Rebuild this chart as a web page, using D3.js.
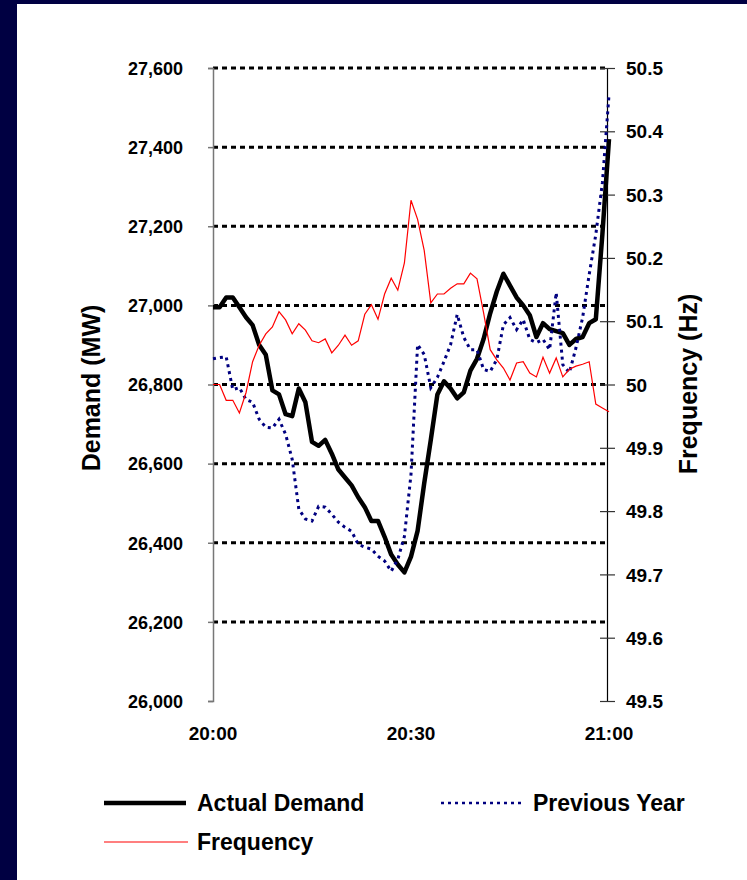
<!DOCTYPE html>
<html>
<head>
<meta charset="utf-8">
<script src="https://cdn.jsdelivr.net/npm/d3@7"></script>
<style>
  html, body { margin: 0; padding: 0; background: #ffffff; }
  svg { display: block; }
  text { font-family: "Liberation Sans", Arial, sans-serif; font-weight: bold; fill: #000; }
</style>
</head>
<body>
<script>
// ---- data (one point per minute, 20:00 .. 21:00) ----
const demand = [26995,26995,27020,27020,26995,26970,26950,26900,26875,26785,26775,26725,26720,26790,26755,26655,26645,26660,26625,26585,26565,26545,26515,26490,26455,26455,26415,26370,26345,26325,26365,26430,26550,26660,26775,26808,26790,26765,26780,26835,26865,26915,26980,27035,27080,27050,27020,27000,26975,26920,26955,26940,26935,26930,26900,26915,26920,26955,26965,27180,27420];
const previousYear = [26865,26868,26870,26787,26792,26762,26755,26712,26692,26690,26712,26674,26611,26485,26460,26455,26492,26490,26472,26452,26439,26429,26396,26389,26384,26366,26354,26328,26358,26416,26573,26901,26876,26792,26818,26858,26901,26977,26919,26888,26888,26838,26833,26863,26951,26969,26939,26964,26914,26906,26914,26888,27032,26850,26830,26893,26969,27078,27179,27310,27532];
const frequency = [50.000,50.000,49.975,49.975,49.955,49.987,50.036,50.062,50.080,50.091,50.115,50.102,50.080,50.096,50.086,50.069,50.066,50.072,50.050,50.062,50.078,50.062,50.069,50.111,50.126,50.103,50.143,50.168,50.149,50.192,50.291,50.261,50.212,50.129,50.143,50.143,50.152,50.159,50.159,50.176,50.167,50.113,50.055,50.039,50.026,50.007,50.034,50.036,50.018,50.012,50.043,50.018,50.042,50.012,50.024,50.029,50.032,50.036,49.969,49.963,49.957];
const xTickPositions = [0, 30, 60];
const xTickLabels = ["20:00", "20:30", "21:00"];
const leftTicks = [26000,26200,26400,26600,26800,27000,27200,27400,27600];
const rightTicks = [49.5,49.6,49.7,49.8,49.9,50,50.1,50.2,50.3,50.4,50.5];
const seriesNames = ["Actual Demand", "Previous Year", "Frequency"];

const W = 747, H = 880;
const svg = d3.select("body").append("svg").attr("width", W).attr("height", H);

// frame
svg.append("rect").attr("x",0).attr("y",0).attr("width",W).attr("height",H).attr("fill","#ffffff");
svg.append("rect").attr("x",0).attr("y",0).attr("width",W).attr("height",4).attr("fill","#000042");
svg.append("rect").attr("x",0).attr("y",0).attr("width",17).attr("height",H).attr("fill","#000042");

const plot = {left: 213, right: 607, top: 68, bottom: 701};
const x = d3.scaleLinear().domain([0, 60]).range([plot.left, plot.right + 2]);
const yL = d3.scaleLinear().domain([26000, 27600]).range([plot.bottom, plot.top]);
const yR = d3.scaleLinear().domain([49.5, 50.5]).range([plot.bottom, plot.top]);

// gridlines
svg.append("g").selectAll("line").data(leftTicks.filter(t => t > 26000)).join("line")
  .attr("x1", plot.left).attr("x2", plot.right)
  .attr("y1", d => yL(d)).attr("y2", d => yL(d))
  .attr("stroke", "#000").attr("stroke-width", 3).attr("stroke-dasharray", "5,4");

// left axis
const leftAxis = d3.axisLeft(yL).tickValues(leftTicks).tickSize(5).tickPadding(25)
  .tickFormat(d3.format(","));
const gL = svg.append("g").attr("transform", `translate(${plot.left},0)`).call(leftAxis);
gL.select(".domain").attr("stroke", "#777").attr("stroke-width", 1.5);
gL.selectAll(".tick line").attr("stroke", "#777").attr("stroke-width", 1.5);
gL.selectAll(".tick text").style("font-size", "18px").attr("dy", "0.35em");

// right axis
const rightAxis = d3.axisRight(yR).tickValues(rightTicks).tickSize(8).tickPadding(11)
  .tickFormat(d => d3.format("")(d));
const gR = svg.append("g").attr("transform", `translate(${plot.right},0)`).call(rightAxis);
gR.select(".domain").attr("stroke", "#000").attr("stroke-width", 1.2);
gR.selectAll(".tick line").attr("x1", -7).attr("stroke", "#333").attr("stroke-width", 1.2);
gR.selectAll(".tick text").style("font-size", "19px").attr("dy", "0.35em");

// x labels
svg.append("g").selectAll("text").data(xTickPositions).join("text")
  .attr("x", d => x(d)).attr("y", 740)
  .attr("text-anchor", "middle").style("font-size", "19px")
  .text((d, i) => xTickLabels[i]);

// axis titles
svg.append("text").attr("transform", "translate(100,388) rotate(-90)")
  .attr("text-anchor", "middle").style("font-size", "25px").text("Demand (MW)");
svg.append("text").attr("transform", "translate(697,384) rotate(-90)")
  .attr("text-anchor", "middle").style("font-size", "25px").text("Frequency (Hz)");

// series
const lineL = d3.line().x((d, i) => x(i)).y(d => yL(d));
const lineR = d3.line().x((d, i) => x(i)).y(d => yR(d));

svg.append("path").datum(demand).attr("d", lineL)
  .attr("fill", "none").attr("stroke", "#000").attr("stroke-width", 4.5)
  .attr("stroke-linejoin", "round");
svg.append("path").datum(previousYear).attr("d", lineL)
  .attr("fill", "none").attr("stroke", "#000080").attr("stroke-width", 3)
  .attr("stroke-dasharray", "3,4");
svg.append("path").datum(frequency).attr("d", lineR)
  .attr("fill", "none").attr("stroke", "#ff0000").attr("stroke-width", 1.2);

// legend
const legend = [
  {name: seriesNames[0], x1: 104, x2: 186, y: 803, tx: 197, stroke: "#000", sw: 4.5, dash: null},
  {name: seriesNames[1], x1: 441, x2: 521, y: 803, tx: 533, stroke: "#000080", sw: 2.5, dash: "3,4"},
  {name: seriesNames[2], x1: 104, x2: 188, y: 842, tx: 197, stroke: "#ff0000", sw: 1.2, dash: null}
];
const lg = svg.append("g").selectAll("g").data(legend).join("g");
lg.append("line").attr("x1", d => d.x1).attr("x2", d => d.x2)
  .attr("y1", d => d.y).attr("y2", d => d.y)
  .attr("stroke", d => d.stroke).attr("stroke-width", d => d.sw)
  .attr("stroke-dasharray", d => d.dash);
lg.append("text").attr("x", d => d.tx).attr("y", d => d.y).attr("dy", "0.35em")
  .style("font-size", "23px").text(d => d.name);
</script>
</body>
</html>
